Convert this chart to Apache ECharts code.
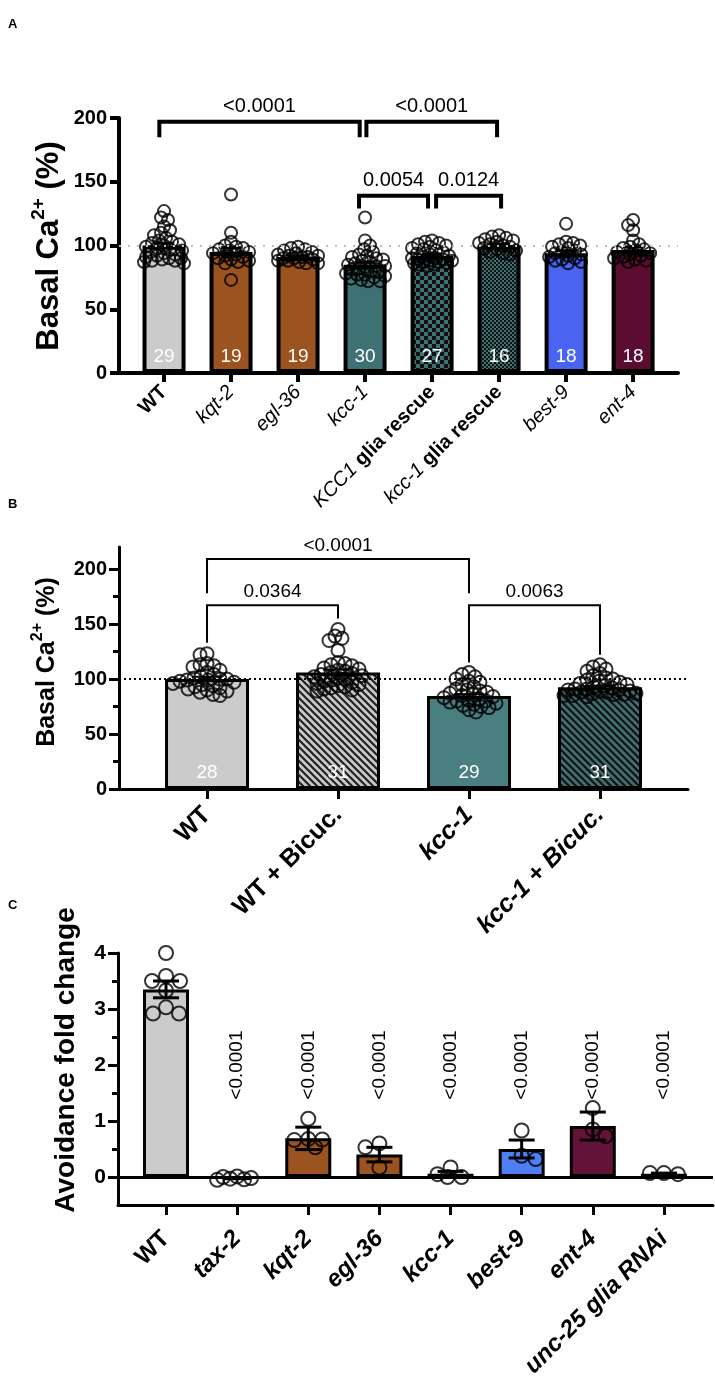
<!DOCTYPE html>
<html>
<head>
<meta charset="utf-8">
<script src="https://cdn.jsdelivr.net/npm/echarts@6.0.0/dist/echarts.min.js"></script>
<style>
  html, body { margin: 0; padding: 0; background: #fff; }
  #chart { width: 715px; height: 1382px; }
</style>
</head>
<body>
<div id="chart"></div>
<script>
const FONT = '"Liberation Sans", Arial, Helvetica, sans-serif';

// ---- A: basal Ca2+ ----
const catsA = ['WT', 'kqt-2', 'egl-36', 'kcc-1', 'KCC1 glia rescue', 'kcc-1 glia rescue', 'best-9', 'ent-4'];
const meanA = [100, 95, 91, 85, 92, 100, 94, 96.5];
const semA = [1.8, 3.3, 0.9, 1.8, 1.0, 1.2, 1.8, 2.4];
const nA = [29, 19, 19, 30, 27, 16, 18, 18];
const dotsA = [
  [127, 122, 120, 115, 112, 110, 108, 106, 104, 103, 102, 101, 100, 99, 98, 97, 96, 95, 94, 93, 92, 91, 90, 90, 89, 88, 88, 87, 86],
  [140, 110, 103, 100, 99, 98, 97, 96, 95, 94, 93, 92, 91, 90, 89, 88, 87, 86, 73],
  [99, 98, 97, 96, 95, 94, 93, 92, 92, 91, 91, 90, 90, 89, 88, 88, 87, 86, 86],
  [122, 104, 100, 97, 95, 93, 92, 91, 90, 89, 88, 87, 86, 85, 84, 84, 83, 82, 81, 80, 79, 78, 77, 77, 76, 75, 74, 73, 72, 72],
  [104, 103, 102, 101, 100, 99, 98, 97, 96, 95, 94, 93, 92, 91, 90, 90, 89, 89, 88, 88, 87, 87, 86, 86, 85, 85, 84],
  [108, 107, 106, 105, 104, 103, 102, 101, 100, 99, 98, 97, 96, 95, 94, 93],
  [117, 103, 102, 101, 100, 99, 98, 96, 95, 94, 93, 92, 91, 90, 89, 88, 87, 86],
  [120, 116, 112, 104, 101, 99, 98, 97, 96, 95, 94, 93, 92, 91, 90, 89, 88, 87]
];
// [from, to, bracket y, left end y, right end y, p]
const sigA = [
  [-0.07, 2.92, 197, 185, 185, '<0.0001'],
  [3.02, 4.97, 197, 185, 185, '<0.0001'],
  [2.91, 3.94, 139, 129, 129, '0.0054'],
  [4.06, 5.03, 139, 129, 129, '0.0124']
];

// ---- B: bicuculline ----
const catsB = ['WT', 'WT + Bicuc.', 'kcc-1', 'kcc-1 + Bicuc.'];
const meanB = [100, 106, 84.5, 92.5];
const semB = [2.0, 2.6, 1.7, 1.3];
const nB = [28, 31, 29, 31];
const dotsB = [
  [123, 122, 114, 113, 112, 111, 108, 106, 104, 102, 101, 100, 100, 99, 99, 98, 97, 96, 95, 94, 93, 92, 91, 90, 89, 88, 86, 85],
  [145, 139, 137, 135, 126, 115, 114, 113, 112, 110, 109, 108, 107, 106, 105, 104, 103, 102, 101, 100, 99, 98, 97, 96, 95, 94, 93, 92, 91, 90, 89],
  [106, 104, 102, 100, 98, 97, 95, 93, 91, 90, 89, 88, 87, 86, 85, 84, 83, 82, 81, 80, 80, 79, 78, 77, 76, 75, 74, 72, 70],
  [113, 111, 109, 107, 105, 103, 101, 100, 99, 98, 97, 96, 95, 94, 93, 92, 91, 91, 90, 90, 89, 89, 88, 88, 87, 87, 86, 86, 85, 85, 84]
];
const sigB = [
  [0, 2, 209, 178, 178, '<0.0001'],
  [0, 1, 167, 133, 155, '0.0364'],
  [2, 3, 167, 115, 122, '0.0063']
];

// ---- C: avoidance ----
const catsC = ['WT', 'tax-2', 'kqt-2', 'egl-36', 'kcc-1', 'best-9', 'ent-4', 'unc-25 glia RNAi'];
const meanC = [3.35, -0.02, 0.69, 0.40, 0.06, 0.50, 0.91, 0.06];
const semC = [0.15, 0.01, 0.20, 0.13, 0.04, 0.16, 0.25, 0.01];
const dotsC = [
  [4.0, 3.59, 3.5, 3.5, 3.33, 3.03, 2.92, 2.92],
  [0.01, 0.0, -0.02, -0.03, -0.04, -0.05],
  [1.04, 0.68, 0.67, 0.66, 0.53],
  [0.60, 0.53, 0.17],
  [0.17, 0.05, 0.0, 0.0],
  [0.83, 0.38, 0.32],
  [1.23, 0.85, 0.73],
  [0.07, 0.07, 0.05]
];
const pC = ['', '<0.0001', '<0.0001', '<0.0001', '<0.0001', '<0.0001', '<0.0001', '<0.0001'];

// colours / fills
const GREY = '#cbcbcb', BROWN = '#9b531f', TEAL = '#3e7173', BLUE = '#4a64f2', MAROON = '#5b0d30';

function checker(c1, c2, s) {
  const cv = document.createElement('canvas');
  cv.width = cv.height = s * 2;
  const ctx = cv.getContext('2d');
  ctx.fillStyle = c1; ctx.fillRect(0, 0, s * 2, s * 2);
  ctx.fillStyle = c2; ctx.fillRect(0, 0, s, s); ctx.fillRect(s, s, s, s);
  return { image: cv, repeat: 'repeat' };
}
function hatch(bg, fg, s, lw) {
  const cv = document.createElement('canvas');
  cv.width = cv.height = s;
  const ctx = cv.getContext('2d');
  ctx.fillStyle = bg; ctx.fillRect(0, 0, s, s);
  ctx.strokeStyle = fg; ctx.lineWidth = lw;
  ctx.beginPath();
  for (const k of [-1, 0, 1]) { ctx.moveTo(-1, -1 + k * s); ctx.lineTo(s + 1, s + 1 + k * s); }
  ctx.stroke();
  return { image: cv, repeat: 'repeat' };
}

const fillA = [GREY, BROWN, BROWN, TEAL, checker(TEAL, '#111', 4), checker(TEAL, '#111', 2), BLUE, MAROON];
const fillB = [GREY, hatch('#c9c9c9', '#222', 7, 2.2), '#4a7f82', hatch('#3f6f71', '#111', 7, 2.2)];
const fillC = [GREY, GREY, BROWN, BROWN, TEAL, '#4f7ff5', '#63133a', TEAL];

// beeswarm-ish horizontal spread, in px then back to category units
function swarm(vals, pxX, pxY, d, maxPx) {
  const placed = [];
  return vals.map((v, j) => {
    const y = v * pxY;
    let bestX = 0, bestGap = -1, done = false;
    for (let s = 0; s <= maxPx && !done; s++) {
      const cand = s === 0 ? [0] : (j % 2 ? [-s, s] : [s, -s]);
      for (const x of cand) {
        let gap = Infinity;
        placed.forEach(p => { gap = Math.min(gap, Math.hypot(p[0] - x, p[1] - y)); });
        if (gap >= d) { bestX = x; done = true; break; }
        if (gap > bestGap) { bestGap = gap; bestX = x; }
      }
    }
    placed.push([bestX, y]);
    return bestX / pxX;
  });
}

function barSeries(means, fills, n, xi, yi, w, bw, fs) {
  return {
    type: 'bar', xAxisIndex: xi, yAxisIndex: yi, barWidth: w, z: 2, silent: true,
    data: means.map((m, k) => ({ value: [k, m], itemStyle: { color: fills[k] } })),
    itemStyle: { borderColor: '#000', borderWidth: bw },
    label: n ? {
      show: true, position: 'insideBottom', distance: 7, color: '#fff',
      fontSize: fs, fontFamily: FONT, formatter: p => n[p.dataIndex]
    } : { show: false }
  };
}

function dotSeries(groups, xi, yi, pxX, pxY, d, maxPx, size) {
  const data = [];
  groups.forEach((vals, k) => {
    swarm(vals, pxX, pxY, d, maxPx).forEach((off, j) => data.push([k + off, vals[j]]));
  });
  return {
    type: 'scatter', xAxisIndex: xi, yAxisIndex: yi, z: 3, silent: true,
    symbol: 'circle', symbolSize: size, data: data,
    itemStyle: { color: 'rgba(255,255,255,0)', borderColor: '#000', borderWidth: 2 }
  };
}

function errSeries(means, sems, xi, yi, lw, cap) {
  return {
    type: 'custom', xAxisIndex: xi, yAxisIndex: yi, z: 4, silent: true,
    data: means.map((m, k) => [k, m - sems[k], m + sems[k]]),
    renderItem: (params, api) => {
      const lo = api.coord([api.value(0), api.value(1)]);
      const hi = api.coord([api.value(0), api.value(2)]);
      const st = { stroke: '#000', lineWidth: lw };
      return {
        type: 'group', children: [
          { type: 'line', shape: { x1: lo[0], y1: lo[1], x2: hi[0], y2: hi[1] }, style: st },
          { type: 'line', shape: { x1: hi[0] - cap / 2, y1: hi[1], x2: hi[0] + cap / 2, y2: hi[1] }, style: st },
          { type: 'line', shape: { x1: lo[0] - cap / 2, y1: lo[1], x2: lo[0] + cap / 2, y2: lo[1] }, style: st }
        ]
      };
    }
  };
}

function sigSeries(sig, xi, yi, lw, fs) {
  return {
    type: 'custom', xAxisIndex: xi, yAxisIndex: yi, z: 6, silent: true,
    data: sig.map(s => [s[0], s[2], s[1], s[3], s[4]]),
    renderItem: (params, api) => {
      const a = api.coord([api.value(0), api.value(1)]);
      const b = api.coord([api.value(2), api.value(1)]);
      const al = api.coord([api.value(0), api.value(3)]);
      const br = api.coord([api.value(2), api.value(4)]);
      return {
        type: 'group', children: [
          { type: 'polyline', shape: { points: [al, a, b, br] },
            style: { stroke: '#000', lineWidth: lw, fill: null, lineJoin: 'miter' } },
          { type: 'text', x: (a[0] + b[0]) / 2, y: a[1] - lw / 2 - 3,
            style: { text: sig[params.dataIndex][5], align: 'center', verticalAlign: 'bottom',
                     fontSize: fs, fontFamily: FONT, fill: '#000' } }
        ]
      };
    }
  };
}

// dotted reference line at 100, kept behind the bars
function refLine(xi, yi, style) {
  return {
    type: 'line', xAxisIndex: xi, yAxisIndex: yi, data: [], z: 1, silent: true,
    markLine: { silent: true, symbol: 'none', label: { show: false }, lineStyle: style, data: [{ yAxis: 100 }] }
  };
}

const rich = size => ({
  b: { fontSize: size, fontWeight: 'bold', fontFamily: FONT, color: '#000' },
  i: { fontSize: size, fontStyle: 'italic', fontFamily: FONT, color: '#000' },
  bi: { fontSize: size, fontWeight: 'bold', fontStyle: 'italic', fontFamily: FONT, color: '#000' }
});
function fmtA(name) {
  if (name === 'WT') return '{b|WT}';
  if (name.indexOf(' glia rescue') > 0) return '{i|' + name.replace(' glia rescue', '') + '}{b| glia rescue}';
  return '{i|' + name + '}';
}
const fmtB = name => (name.indexOf('WT') === 0 ? '{b|' : '{bi|') + name + '}';
const fmtC = name => (name === 'WT' ? '{b|' : '{bi|') + name + '}';

const idx = arr => arr.map((_, k) => k);

function xAxisCfg(gi, cats, fmt, min, max, lw, tickLen, rot, fs, margin) {
  return {
    gridIndex: gi, type: 'value', min: min, max: max,
    axisLine: { show: true, onZero: false, lineStyle: { color: '#000', width: lw } },
    axisTick: { show: true, customValues: idx(cats), length: tickLen, lineStyle: { color: '#000', width: lw } },
    axisLabel: { customValues: idx(cats), rotate: rot, margin: margin, interval: 0,
                 formatter: v => fmt(cats[Math.round(v)]), rich: rich(fs) },
    splitLine: { show: false }
  };
}
function yAxisCfg(gi, min, max, labels, lw, tickLen, fs, showLine) {
  return {
    gridIndex: gi, type: 'value', min: min, max: max, position: 'left',
    axisLine: { show: showLine, onZero: false, lineStyle: { color: '#000', width: lw } },
    axisTick: { show: true, customValues: labels, length: tickLen, lineStyle: { color: '#000', width: lw } },
    axisLabel: { show: showLine, customValues: labels, margin: 12, color: '#000',
                 fontSize: fs, fontWeight: 'bold', fontFamily: FONT },
    splitLine: { show: false }
  };
}

// layout (px) per panel
const H = 1382;
const gA = { left: 119, right: 37, top: 118, bottom: H - 373 };
const gB = { left: 119, right: 27, top: 547, bottom: H - 789 };
const gC = { left: 118, right: 2, top: 953, bottom: H - 1205 };
const xrA = [-0.672, 7.67], xrB = [-0.672, 3.672], xrC = [-0.675, 7.69];
const pxXA = (715 - gA.left - gA.right) / (xrA[1] - xrA[0]);
const pxXB = (715 - gB.left - gB.right) / (xrB[1] - xrB[0]);
const pxXC = (715 - gC.left - gC.right) / (xrC[1] - xrC[0]);
const pxYA = (373 - 118) / 200, pxYB = (789 - 547) / 220, pxYC = (1205 - 953) / 4.5;

const chart = echarts.init(document.getElementById('chart'), null, { renderer: 'canvas' });

const option = {
  animation: false,
  backgroundColor: '#fff',
  grid: [
    Object.assign({ containLabel: false }, gA),
    Object.assign({ containLabel: false }, gB),
    Object.assign({ containLabel: false }, gC)
  ],
  xAxis: [
    xAxisCfg(0, catsA, fmtA, xrA[0], xrA[1], 4, 9, 45, 20, 16),
    xAxisCfg(1, catsB, fmtB, xrB[0], xrB[1], 3, 10, 45, 25, 22),
    xAxisCfg(2, catsC, fmtC, xrC[0], xrC[1], 3, 10, 45, 24, 30)
  ],
  yAxis: [
    yAxisCfg(0, 0, 200, [0, 50, 100, 150, 200], 4, 9, 20, true),
    yAxisCfg(1, 0, 220, [0, 50, 100, 150, 200], 3, 10, 20, true),
    yAxisCfg(1, 0, 220, [25, 75, 125, 175], 3, 6, 20, false),
    yAxisCfg(2, -0.5, 4, [0, 1, 2, 3, 4], 3, 10, 21, true),
    yAxisCfg(2, -0.5, 4, [0.5, 1.5, 2.5, 3.5], 3, 6, 21, false)
  ],
  graphic: [
    { type: 'text', x: 8, y: 18, style: { text: 'A', fontSize: 13, fontWeight: 'bold', fontFamily: FONT, fill: '#000' } },
    { type: 'text', x: 8, y: 498, style: { text: 'B', fontSize: 13, fontWeight: 'bold', fontFamily: FONT, fill: '#000' } },
    { type: 'text', x: 8, y: 899, style: { text: 'C', fontSize: 13, fontWeight: 'bold', fontFamily: FONT, fill: '#000' } },
    { type: 'text', x: 49, y: 246, rotation: Math.PI / 2,
      style: { text: 'Basal Ca{sup|2+} (%)', fontSize: 31, fontWeight: 'bold', fontFamily: FONT, fill: '#000',
               lineHeight: 40, align: 'center', verticalAlign: 'middle',
               rich: { sup: { fontSize: 19, fontWeight: 'bold', fontFamily: FONT, verticalAlign: 'top', lineHeight: 20 } } } },
    { type: 'text', x: 47, y: 662, rotation: Math.PI / 2,
      style: { text: 'Basal Ca{sup|2+} (%)', fontSize: 25, fontWeight: 'bold', fontFamily: FONT, fill: '#000',
               lineHeight: 34, align: 'center', verticalAlign: 'middle',
               rich: { sup: { fontSize: 16, fontWeight: 'bold', fontFamily: FONT, verticalAlign: 'top', lineHeight: 17 } } } },
    { type: 'text', x: 66, y: 1060, rotation: Math.PI / 2,
      style: { text: 'Avoidance fold change', fontSize: 28, fontWeight: 'bold', fontFamily: FONT, fill: '#000',
               align: 'center', verticalAlign: 'middle' } }
  ],
  series: [
    // A
    refLine(0, 0, { color: '#bdbdbd', type: [2, 7], width: 2 }),
    barSeries(meanA, fillA, nA, 0, 0, 43, 4, 19),
    dotSeries(dotsA, 0, 0, pxXA, pxYA, 7, 20, 12),
    errSeries(meanA, semA, 0, 0, 3, 20),
    sigSeries(sigA, 0, 0, 4, 20),
    // B
    refLine(1, 1, { color: '#000', type: [2, 3], width: 2 }),
    barSeries(meanB, fillB, nB, 1, 1, 84, 3, 19),
    dotSeries(dotsB, 1, 1, pxXB, pxYB, 7, 36, 13),
    errSeries(meanB, semB, 1, 1, 2, 30),
    sigSeries(sigB, 1, 1, 2, 19),
    // C
    Object.assign(barSeries(meanC, fillC, null, 2, 3, 46, 3, 0), {
      markLine: { silent: true, symbol: 'none', label: { show: false },
                  lineStyle: { color: '#000', type: 'solid', width: 3 }, data: [{ yAxis: 0 }] }
    }),
    dotSeries(dotsC, 2, 3, pxXC, pxYC, 14, 20, 14),
    errSeries(meanC, semC, 2, 3, 3, 26),
    {
      type: 'custom', xAxisIndex: 2, yAxisIndex: 3, z: 6, silent: true,
      data: idx(pC).filter(k => pC[k]).map(k => [k, 1.38]),
      renderItem: (params, api) => {
        const p = api.coord([api.value(0), api.value(1)]);
        return { type: 'text', x: p[0], y: p[1], rotation: Math.PI / 2,
                 style: { text: pC[api.value(0)], align: 'left', verticalAlign: 'middle',
                          fontSize: 19, fontFamily: FONT, fill: '#000' } };
      }
    }
  ]
};

chart.setOption(option);
window.onresize = function () { chart.resize(); };
</script>
</body>
</html>
